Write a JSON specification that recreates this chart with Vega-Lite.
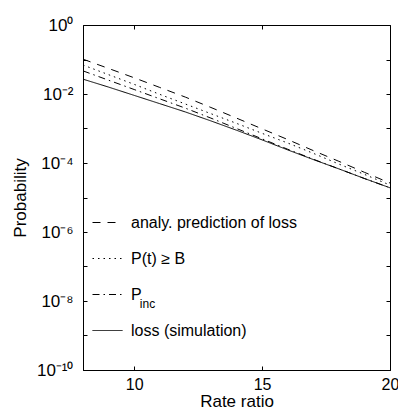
{
  "$schema": "https://vega.github.io/schema/vega-lite/v6.json",
  "autosize": {"type": "none"},
  "padding": {"left": 83, "top": 25, "right": 8, "bottom": 48},
  "width": 307,
  "height": 345,
  "background": "white",
  "config": {
    "view": {"stroke": "black", "strokeWidth": 1},
    "font": "Liberation Sans",
    "axis": {"grid": false, "domainColor": "black", "tickColor": "black", "labelColor": "black", "titleColor": "black", "labelFont": "Liberation Sans", "titleFont": "Liberation Sans", "titleFontWeight": "normal"}
  },
  "data": {"values": [
    {"x": 8, "p": 0.1023, "series": "analy. prediction of loss"},
    {"x": 9, "p": 0.0550, "series": "analy. prediction of loss"},
    {"x": 10, "p": 0.0295, "series": "analy. prediction of loss"},
    {"x": 11, "p": 0.01549, "series": "analy. prediction of loss"},
    {"x": 12, "p": 0.00813, "series": "analy. prediction of loss"},
    {"x": 13, "p": 0.00407, "series": "analy. prediction of loss"},
    {"x": 14, "p": 0.00200, "series": "analy. prediction of loss"},
    {"x": 15, "p": 0.000977, "series": "analy. prediction of loss"},
    {"x": 16, "p": 0.000479, "series": "analy. prediction of loss"},
    {"x": 17, "p": 0.000229, "series": "analy. prediction of loss"},
    {"x": 18, "p": 0.000112, "series": "analy. prediction of loss"},
    {"x": 19, "p": 0.0000537, "series": "analy. prediction of loss"},
    {"x": 20, "p": 0.0000263, "series": "analy. prediction of loss"},
    {"x": 8, "p": 0.0692, "series": "P(t) ≥ B"},
    {"x": 9, "p": 0.0363, "series": "P(t) ≥ B"},
    {"x": 10, "p": 0.01905, "series": "P(t) ≥ B"},
    {"x": 11, "p": 0.00977, "series": "P(t) ≥ B"},
    {"x": 12, "p": 0.00513, "series": "P(t) ≥ B"},
    {"x": 13, "p": 0.00269, "series": "P(t) ≥ B"},
    {"x": 14, "p": 0.00141, "series": "P(t) ≥ B"},
    {"x": 15, "p": 0.000724, "series": "P(t) ≥ B"},
    {"x": 16, "p": 0.000380, "series": "P(t) ≥ B"},
    {"x": 17, "p": 0.000191, "series": "P(t) ≥ B"},
    {"x": 18, "p": 0.0000933, "series": "P(t) ≥ B"},
    {"x": 19, "p": 0.0000468, "series": "P(t) ≥ B"},
    {"x": 20, "p": 0.0000229, "series": "P(t) ≥ B"},
    {"x": 8, "p": 0.0468, "series": "P_inc"},
    {"x": 9, "p": 0.0251, "series": "P_inc"},
    {"x": 10, "p": 0.01349, "series": "P_inc"},
    {"x": 11, "p": 0.00724, "series": "P_inc"},
    {"x": 12, "p": 0.00389, "series": "P_inc"},
    {"x": 13, "p": 0.00200, "series": "P_inc"},
    {"x": 14, "p": 0.00100, "series": "P_inc"},
    {"x": 15, "p": 0.000501, "series": "P_inc"},
    {"x": 16, "p": 0.000251, "series": "P_inc"},
    {"x": 17, "p": 0.000129, "series": "P_inc"},
    {"x": 18, "p": 0.0000676, "series": "P_inc"},
    {"x": 19, "p": 0.0000355, "series": "P_inc"},
    {"x": 20, "p": 0.0000191, "series": "P_inc"},
    {"x": 8, "p": 0.02692, "series": "loss (simulation)"},
    {"x": 9, "p": 0.01585, "series": "loss (simulation)"},
    {"x": 10, "p": 0.00912, "series": "loss (simulation)"},
    {"x": 11, "p": 0.00525, "series": "loss (simulation)"},
    {"x": 12, "p": 0.00302, "series": "loss (simulation)"},
    {"x": 13, "p": 0.00166, "series": "loss (simulation)"},
    {"x": 14, "p": 0.000891, "series": "loss (simulation)"},
    {"x": 15, "p": 0.000468, "series": "loss (simulation)"},
    {"x": 16, "p": 0.000240, "series": "loss (simulation)"},
    {"x": 17, "p": 0.000126, "series": "loss (simulation)"},
    {"x": 18, "p": 0.0000676, "series": "loss (simulation)"},
    {"x": 19, "p": 0.0000355, "series": "loss (simulation)"},
    {"x": 20, "p": 0.0000191, "series": "loss (simulation)"}
  ]},
  "resolve": {"axis": {"x": "independent", "y": "independent"}},
  "layer": [
    {
      "mark": {"type": "line", "color": "black", "strokeWidth": 1, "clip": true},
      "encoding": {
        "x": {"field": "x", "type": "quantitative", "scale": {"domain": [8, 20], "nice": false, "zero": false},
          "axis": {"values": [10, 15, 20], "title": "Rate ratio", "titleFontSize": 17, "labelFontSize": 16, "tickSize": -4, "labelPadding": 10, "titlePadding": 1, "labelFlush": false}},
        "y": {"field": "p", "type": "quantitative", "scale": {"type": "log", "domain": [1e-10, 1], "nice": false},
          "axis": {"values": [1e-10, 1e-9, 1e-8, 1e-7, 1e-6, 1e-5, 1e-4, 1e-3, 1e-2, 1e-1, 1],
            "labelExpr": "round(log(datum.value)/LN10)==0?'10⁰':round(log(datum.value)/LN10)==-2?'10⁻²':round(log(datum.value)/LN10)==-4?'10⁻⁴':round(log(datum.value)/LN10)==-6?'10⁻⁶':round(log(datum.value)/LN10)==-8?'10⁻⁸':round(log(datum.value)/LN10)==-10?'10⁻¹⁰':''",
            "title": "Probability", "titleFontSize": 17, "labelFontSize": 17, "tickSize": -4, "labelPadding": 14, "titlePadding": 7, "labelFlush": false}},
        "strokeDash": {"field": "series", "type": "nominal",
          "scale": {"domain": ["analy. prediction of loss", "P(t) ≥ B", "P_inc", "loss (simulation)"],
                    "range": [[8, 7], [1.5, 4], [7, 4, 1.5, 4], [1, 0]]},
          "legend": {"title": null, "orient": "none", "legendX": 9, "legendY": 182, "symbolType": "stroke", "symbolSize": 900,
            "symbolStrokeColor": "black", "symbolStrokeWidth": 1, "labelFontSize": 16, "labelFont": "Liberation Sans", "labelColor": "black",
            "rowPadding": 12, "labelOffset": 8, "padding": 0, "labelLimit": 300,
            "labelExpr": "datum.label == 'P_inc' ? 'P' : datum.label"}}
      }
    },
    {
      "mark": {"type": "line", "opacity": 0},
      "encoding": {
        "x": {"field": "x", "type": "quantitative", "axis": {"orient": "top", "values": [10, 15, 20], "labels": false, "title": null, "tickSize": -4, "domain": false}},
        "y": {"field": "p", "type": "quantitative", "axis": {"orient": "right", "values": [1e-10, 1e-9, 1e-8, 1e-7, 1e-6, 1e-5, 1e-4, 1e-3, 1e-2, 1e-1, 1], "labels": false, "title": null, "tickSize": -4, "domain": false}}
      }
    },
    {
      "data": {"values": [{"label": "inc"}]},
      "mark": {"type": "text", "fontSize": 12, "align": "left", "baseline": "middle", "fill": "black", "font": "Liberation Sans"},
      "encoding": {
        "text": {"field": "label", "type": "nominal"},
        "x": {"datum": 10.22, "type": "quantitative", "axis": null},
        "y": {"datum": 8e-9, "type": "quantitative", "axis": null}
      }
    }
  ]
}
